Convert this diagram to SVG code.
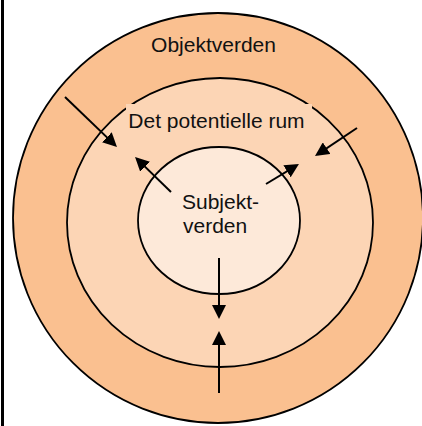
<svg xmlns="http://www.w3.org/2000/svg" width="422" height="426" viewBox="0 0 422 426">
  <style>
    .ring { stroke: #000; stroke-width: 1.8; }
    .lbl { font-family: "Liberation Sans", Arial, sans-serif; font-size: 21px; fill: #111; }
    .arr { stroke: #000; stroke-width: 2; fill: none; marker-end: url(#head); }
  </style>
  <defs>
    <marker id="head" markerUnits="userSpaceOnUse" viewBox="0 0 14 14" markerWidth="14" markerHeight="14" refX="11" refY="7" orient="auto">
      <path d="M0,0 L14,7 L0,14 Z" fill="#000"/>
    </marker>
  </defs>

  <rect width="422" height="426" fill="#fff"/>
  <!-- left frame edge -->
  <rect x="1" y="0" width="3" height="426" fill="#000"/>

  <g id="objektverden">
    <circle class="ring" cx="218" cy="218" r="205" fill="#FAC090"/>
    <text class="lbl" x="213.5" y="52" text-anchor="middle">Objektverden</text>
  </g>

  <g id="potentielle-rum">
    <ellipse class="ring" cx="220" cy="222.5" rx="153" ry="144.5" fill="#FCD5B5"/>
    <rect x="126" y="104" width="186" height="32" fill="#FCD5B5"/>
    <text class="lbl" x="216.5" y="128" text-anchor="middle">Det potentielle rum</text>
  </g>

  <g id="subjektverden">
    <ellipse class="ring" cx="219" cy="220.5" rx="81" ry="73.5" fill="#FDE9D9"/>
    <text class="lbl" x="182" y="209">Subjekt-</text>
    <text class="lbl" x="183" y="233">verden</text>
  </g>

  <g id="connectors">
    <line class="arr" x1="65" y1="97" x2="114.8" y2="144.9"/>
    <line class="arr" x1="357" y1="128" x2="317.5" y2="154.3"/>
    <line class="arr" x1="171" y1="192" x2="137.2" y2="159.1"/>
    <line class="arr" x1="266" y1="184" x2="296.4" y2="165.6"/>
    <line class="arr" x1="219" y1="258" x2="219" y2="316"/>
    <line class="arr" x1="219" y1="393" x2="219" y2="334"/>
  </g>
</svg>
